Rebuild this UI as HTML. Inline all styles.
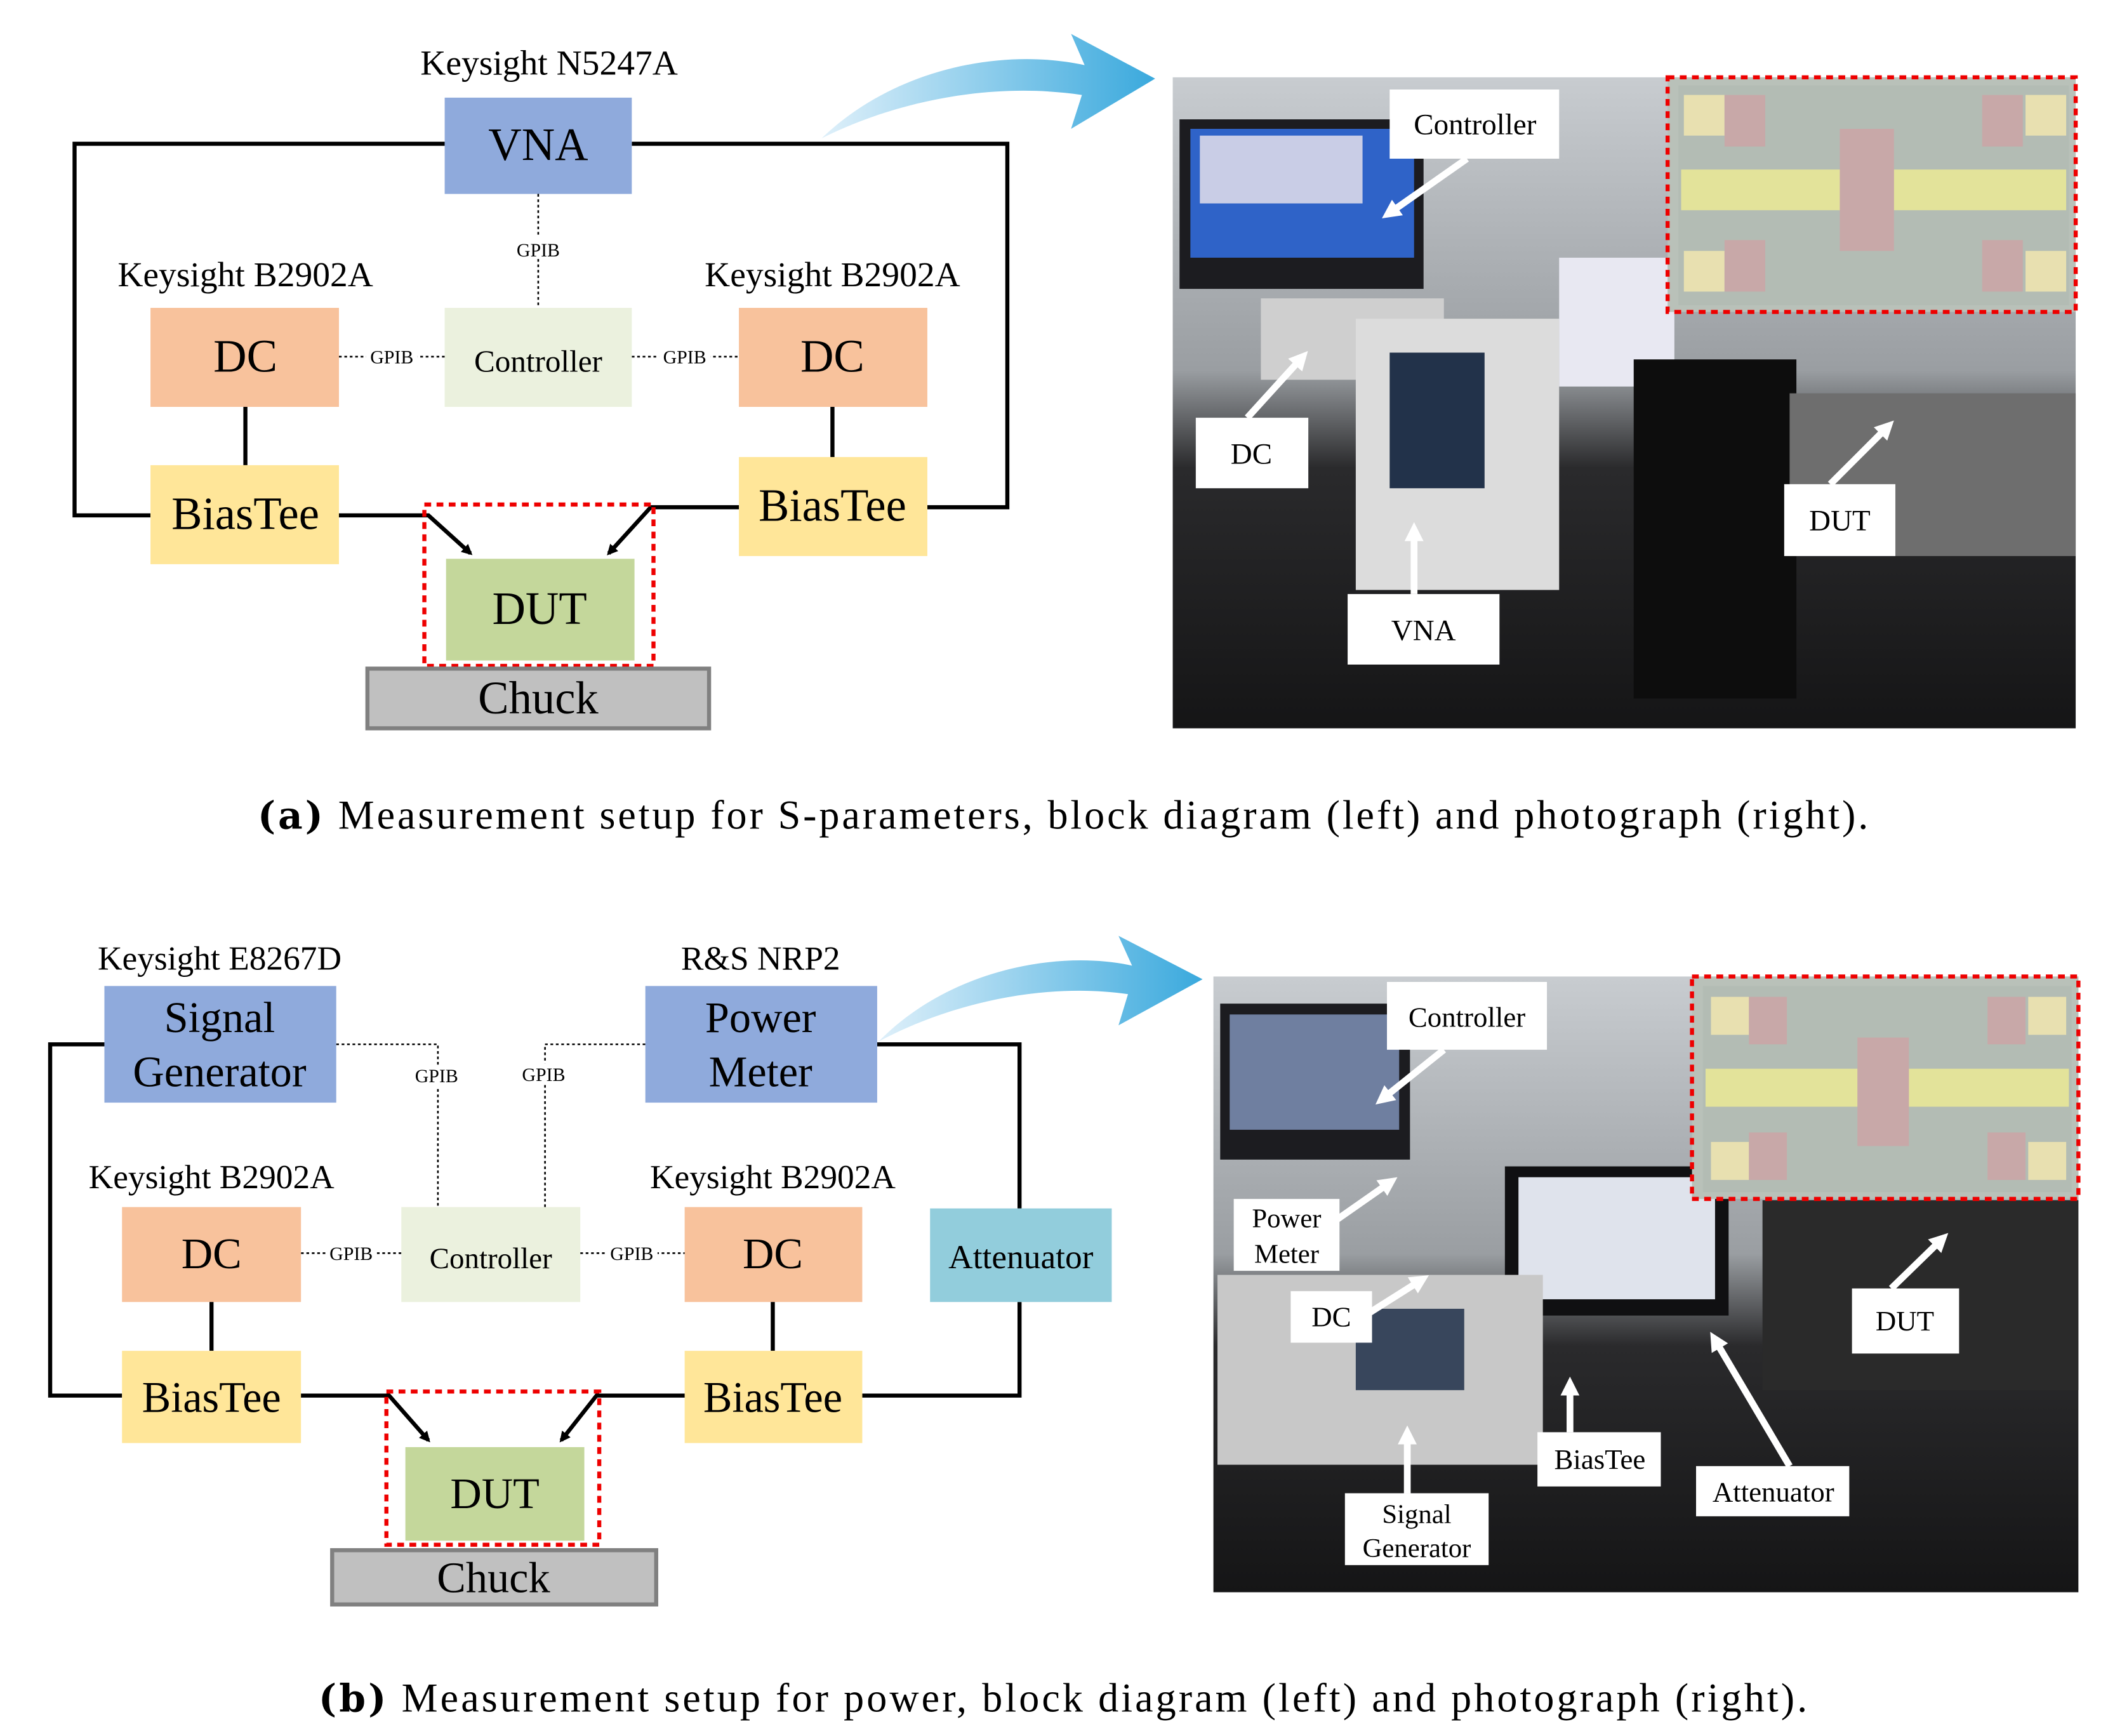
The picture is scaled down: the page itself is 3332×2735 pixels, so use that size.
<!DOCTYPE html>
<html><head><meta charset="utf-8"><style>html,body{margin:0;padding:0;background:#fff}svg{display:block}</style></head>
<body>
<svg width="3332" height="2735" viewBox="0 0 1560 1280" preserveAspectRatio="none" xmlns="http://www.w3.org/2000/svg" font-family="'Liberation Serif', serif">
<defs>
<marker id="ah" markerWidth="8" markerHeight="8" refX="6" refY="4" orient="auto" markerUnits="userSpaceOnUse"><path d="M0,0 L8,4 L0,8 z" fill="#000"/></marker>
<linearGradient id="blu" x1="0" y1="0" x2="1" y2="0"><stop offset="0" stop-color="#dff0fa"/><stop offset="1" stop-color="#3aa9dd"/></linearGradient>
<linearGradient id="ph" x1="0" y1="0" x2="0" y2="1"><stop offset="0" stop-color="#c8ccd0"/><stop offset="0.45" stop-color="#9a9ea2"/><stop offset="0.6" stop-color="#2a2a2c"/><stop offset="1" stop-color="#151516"/></linearGradient>
<marker id="wa" markerWidth="14" markerHeight="14" refX="7" refY="7" orient="auto" markerUnits="userSpaceOnUse"><path d="M0,0 L14,7 L0,14 z" fill="#fff"/></marker>
</defs>
<style>text{fill:#000}</style>

<text x="405" y="55" font-size="26" text-anchor="middle">Keysight N5247A</text>
<polyline points="328,106 55,106 55,380 111,380" fill="none" stroke="#000" stroke-width="3"/>
<polyline points="466,106 743,106 743,374 684,374" fill="none" stroke="#000" stroke-width="3"/>
<rect x="328" y="72" width="138" height="71" fill="#8FAADC"/>
<text x="397" y="118" font-size="34" text-anchor="middle">VNA</text>
<line x1="397" y1="143" x2="397" y2="227" stroke="#000" stroke-width="1.2" stroke-dasharray="2,2"/>
<rect x="378" y="174" width="38" height="16" fill="#fff"/>
<text x="397" y="189" font-size="14" text-anchor="middle">GPIB</text>
<text x="181" y="211" font-size="26" text-anchor="middle">Keysight B2902A</text>
<text x="614" y="211" font-size="26" text-anchor="middle">Keysight B2902A</text>
<line x1="250" y1="263" x2="328" y2="263" stroke="#000" stroke-width="1.2" stroke-dasharray="2,2"/>
<line x1="466" y1="263" x2="545" y2="263" stroke="#000" stroke-width="1.2" stroke-dasharray="2,2"/>
<rect x="270" y="255" width="38" height="16" fill="#fff"/><text x="289" y="268" font-size="14" text-anchor="middle">GPIB</text>
<rect x="486" y="255" width="38" height="16" fill="#fff"/><text x="505" y="268" font-size="14" text-anchor="middle">GPIB</text>
<rect x="111" y="227" width="139" height="73" fill="#F8C29C"/>
<text x="181" y="274" font-size="34" text-anchor="middle">DC</text>
<rect x="545" y="227" width="139" height="73" fill="#F8C29C"/>
<text x="614" y="274" font-size="34" text-anchor="middle">DC</text>
<rect x="328" y="227" width="138" height="73" fill="#EBF1DE"/>
<text x="397" y="274" font-size="23" text-anchor="middle">Controller</text>
<line x1="181" y1="300" x2="181" y2="343" stroke="#000" stroke-width="3"/>
<line x1="614" y1="300" x2="614" y2="337" stroke="#000" stroke-width="3"/>
<rect x="111" y="343" width="139" height="73" fill="#FFE699"/>
<text x="181" y="390" font-size="34" text-anchor="middle">BiasTee</text>
<rect x="545" y="337" width="139" height="73" fill="#FFE699"/>
<text x="614" y="384" font-size="34" text-anchor="middle">BiasTee</text>
<polyline points="250,380 316,380 347,408" fill="none" stroke="#000" stroke-width="3" marker-end="url(#ah)"/>
<polyline points="545,374 480,374 449,408" fill="none" stroke="#000" stroke-width="3" marker-end="url(#ah)"/>
<rect x="329" y="412" width="139" height="75" fill="#C4D79B"/>
<text x="398" y="460" font-size="34" text-anchor="middle">DUT</text>
<rect x="313" y="372" width="169" height="119" fill="none" stroke="#e00" stroke-width="3" stroke-dasharray="5,4"/>
<rect x="271" y="493" width="252" height="44" fill="#c0c0c0" stroke="#808080" stroke-width="3"/>
<text x="397" y="526" font-size="34" text-anchor="middle">Chuck</text>
<path d="M606,102 C660,50 740,35 800,48 L790,25 L852,58 L790,95 L798,70 C730,60 660,75 606,102 z" fill="url(#blu)"/>

<rect x="865" y="57" width="666" height="480" fill="url(#ph)"/>
<rect x="870" y="88" width="180" height="125" fill="#1c1c20"/>
<rect x="878" y="95" width="165" height="95" fill="#2f63c8"/>
<rect x="885" y="100" width="120" height="50" fill="#c9cde6"/>
<rect x="930" y="220" width="135" height="60" fill="#cfcfcf"/>
<rect x="1000" y="235" width="150" height="200" fill="#dcdcdc"/>
<rect x="1025" y="260" width="70" height="100" fill="#22324a"/>
<rect x="1150" y="190" width="85" height="95" fill="#e8e8f2"/>
<rect x="1205" y="265" width="120" height="250" fill="#0d0d0d"/>
<rect x="1320" y="290" width="211" height="120" fill="#6e6e6e"/>
<rect x="1230" y="57" width="301" height="173" fill="#b9c1b9" stroke="#e00" stroke-width="3" stroke-dasharray="5,4"/>
<rect x="1238" y="63" width="288" height="162" fill="#b3bcb4"/>
<rect x="1240" y="125" width="284" height="30" fill="#e3e39a"/>
<rect x="1357" y="95" width="40" height="90" fill="#c8a8a8"/>
<rect x="1242" y="70" width="30" height="30" fill="#e8e0b0"/><rect x="1272" y="70" width="30" height="38" fill="#c8a8a8"/>
<rect x="1494" y="70" width="30" height="30" fill="#e8e0b0"/><rect x="1462" y="70" width="30" height="38" fill="#c8a8a8"/>
<rect x="1242" y="185" width="30" height="30" fill="#e8e0b0"/><rect x="1272" y="177" width="30" height="38" fill="#c8a8a8"/>
<rect x="1494" y="185" width="30" height="30" fill="#e8e0b0"/><rect x="1462" y="177" width="30" height="38" fill="#c8a8a8"/>
<line x1="1082" y1="117" x2="1025" y2="157" stroke="#fff" stroke-width="5" marker-end="url(#wa)"/>
<rect x="1025" y="66" width="125" height="51" fill="#fff"/><text x="1088" y="99" font-size="22" text-anchor="middle">Controller</text>
<line x1="920" y1="308" x2="960" y2="264" stroke="#fff" stroke-width="5" marker-end="url(#wa)"/>
<rect x="882" y="308" width="83" height="52" fill="#fff"/><text x="923" y="342" font-size="22" text-anchor="middle">DC</text>
<line x1="1350" y1="357" x2="1392" y2="315" stroke="#fff" stroke-width="5" marker-end="url(#wa)"/>
<rect x="1316" y="357" width="82" height="53" fill="#fff"/><text x="1357" y="391" font-size="22" text-anchor="middle">DUT</text>
<line x1="1043" y1="438" x2="1043" y2="392" stroke="#fff" stroke-width="5" marker-end="url(#wa)"/>
<rect x="994" y="438" width="112" height="52" fill="#fff"/><text x="1050" y="472" font-size="22" text-anchor="middle">VNA</text>

<text x="190" y="611" font-size="30" textLength="1188" lengthAdjust="spacing"><tspan font-weight="bold" font-family="'DejaVu Serif', serif" font-size="28">(a)</tspan> Measurement setup for S-parameters, block diagram (left) and photograph (right).</text>

<text x="162" y="715" font-size="25" text-anchor="middle">Keysight E8267D</text>
<text x="561" y="715" font-size="25" text-anchor="middle">R&amp;S NRP2</text>
<polyline points="77,770 37,770 37,1029 90,1029" fill="none" stroke="#000" stroke-width="3"/>
<polyline points="647,770 752,770 752,891" fill="none" stroke="#000" stroke-width="3"/>
<polyline points="752,960 752,1029 636,1029" fill="none" stroke="#000" stroke-width="3"/>
<polyline points="248,770 323,770 323,890" fill="none" stroke="#000" stroke-width="1.2" stroke-dasharray="2,2"/>
<polyline points="476,770 402,770 402,890" fill="none" stroke="#000" stroke-width="1.2" stroke-dasharray="2,2"/>
<rect x="304" y="785" width="38" height="16" fill="#fff"/><text x="322" y="798" font-size="14" text-anchor="middle">GPIB</text>
<rect x="383" y="784" width="38" height="16" fill="#fff"/><text x="401" y="797" font-size="14" text-anchor="middle">GPIB</text>
<rect x="77" y="727" width="171" height="86" fill="#8FAADC"/>
<text x="162" y="761" font-size="32" text-anchor="middle">Signal</text>
<text x="162" y="801" font-size="32" text-anchor="middle">Generator</text>
<rect x="476" y="727" width="171" height="86" fill="#8FAADC"/>
<text x="561" y="761" font-size="32" text-anchor="middle">Power</text>
<text x="561" y="801" font-size="32" text-anchor="middle">Meter</text>
<text x="156" y="876" font-size="25" text-anchor="middle">Keysight B2902A</text>
<text x="570" y="876" font-size="25" text-anchor="middle">Keysight B2902A</text>
<line x1="222" y1="924" x2="296" y2="924" stroke="#000" stroke-width="1.2" stroke-dasharray="2,2"/>
<line x1="428" y1="924" x2="505" y2="924" stroke="#000" stroke-width="1.2" stroke-dasharray="2,2"/>
<rect x="240" y="916" width="38" height="16" fill="#fff"/><text x="259" y="929" font-size="14" text-anchor="middle">GPIB</text>
<rect x="447" y="916" width="38" height="16" fill="#fff"/><text x="466" y="929" font-size="14" text-anchor="middle">GPIB</text>
<rect x="90" y="890" width="132" height="70" fill="#F8C29C"/>
<text x="156" y="935" font-size="32" text-anchor="middle">DC</text>
<rect x="296" y="890" width="132" height="70" fill="#EBF1DE"/>
<text x="362" y="935" font-size="22" text-anchor="middle">Controller</text>
<rect x="505" y="890" width="131" height="70" fill="#F8C29C"/>
<text x="570" y="935" font-size="32" text-anchor="middle">DC</text>
<rect x="686" y="891" width="134" height="69" fill="#92CDDC"/>
<text x="753" y="935" font-size="25" text-anchor="middle">Attenuator</text>
<line x1="156" y1="960" x2="156" y2="996" stroke="#000" stroke-width="3"/>
<line x1="570" y1="960" x2="570" y2="996" stroke="#000" stroke-width="3"/>
<rect x="90" y="996" width="132" height="68" fill="#FFE699"/>
<text x="156" y="1041" font-size="32" text-anchor="middle">BiasTee</text>
<rect x="505" y="996" width="131" height="68" fill="#FFE699"/>
<text x="570" y="1041" font-size="32" text-anchor="middle">BiasTee</text>
<polyline points="222,1029 287,1029 316,1062" fill="none" stroke="#000" stroke-width="3" marker-end="url(#ah)"/>
<polyline points="505,1029 440,1029 414,1062" fill="none" stroke="#000" stroke-width="3" marker-end="url(#ah)"/>
<rect x="299" y="1067" width="132" height="69" fill="#C4D79B"/>
<text x="365" y="1112" font-size="32" text-anchor="middle">DUT</text>
<rect x="285" y="1026" width="157" height="113" fill="none" stroke="#e00" stroke-width="3" stroke-dasharray="5,4"/>
<rect x="245" y="1143" width="239" height="40" fill="#c0c0c0" stroke="#808080" stroke-width="3"/>
<text x="364" y="1174" font-size="32" text-anchor="middle">Chuck</text>
<path d="M648,768 C700,715 780,700 835,712 L825,690 L887,722 L825,756 L832,733 C770,724 700,740 648,768 z" fill="url(#blu)"/>

<rect x="895" y="720" width="638" height="454" fill="url(#ph)"/>
<rect x="900" y="740" width="140" height="115" fill="#1c1c20"/>
<rect x="907" y="748" width="125" height="85" fill="#6f7fa0"/>
<rect x="1110" y="860" width="165" height="110" fill="#101012"/>
<rect x="1120" y="868" width="145" height="90" fill="#dfe3ec"/>
<rect x="898" y="940" width="240" height="140" fill="#c8c8c8"/>
<rect x="1000" y="965" width="80" height="60" fill="#38465c"/>
<rect x="1300" y="885" width="233" height="140" fill="#2a2a2a"/>
<rect x="1248" y="720" width="285" height="164" fill="#b9c1b9" stroke="#e00" stroke-width="3" stroke-dasharray="5,4"/>
<rect x="1256" y="727" width="272" height="152" fill="#b3bcb4"/>
<rect x="1258" y="788" width="268" height="28" fill="#e3e39a"/>
<rect x="1370" y="765" width="38" height="80" fill="#c8a8a8"/>
<rect x="1262" y="735" width="28" height="28" fill="#e8e0b0"/><rect x="1290" y="735" width="28" height="35" fill="#c8a8a8"/>
<rect x="1496" y="735" width="28" height="28" fill="#e8e0b0"/><rect x="1466" y="735" width="28" height="35" fill="#c8a8a8"/>
<rect x="1262" y="842" width="28" height="28" fill="#e8e0b0"/><rect x="1290" y="835" width="28" height="35" fill="#c8a8a8"/>
<rect x="1496" y="842" width="28" height="28" fill="#e8e0b0"/><rect x="1466" y="835" width="28" height="35" fill="#c8a8a8"/>
<line x1="1065" y1="774" x2="1020" y2="810" stroke="#fff" stroke-width="5" marker-end="url(#wa)"/>
<rect x="1023" y="724" width="118" height="50" fill="#fff"/><text x="1082" y="757" font-size="21" text-anchor="middle">Controller</text>
<line x1="985" y1="900" x2="1025" y2="872" stroke="#fff" stroke-width="5" marker-end="url(#wa)"/>
<rect x="910" y="884" width="78" height="53" fill="#fff"/><text x="949" y="905" font-size="20" text-anchor="middle">Power</text><text x="949" y="931" font-size="20" text-anchor="middle">Meter</text>
<line x1="1010" y1="968" x2="1048" y2="944" stroke="#fff" stroke-width="5" marker-end="url(#wa)"/>
<rect x="952" y="952" width="60" height="38" fill="#fff"/><text x="982" y="978" font-size="21" text-anchor="middle">DC</text>
<line x1="1395" y1="950" x2="1432" y2="914" stroke="#fff" stroke-width="5" marker-end="url(#wa)"/>
<rect x="1366" y="950" width="79" height="48" fill="#fff"/><text x="1405" y="981" font-size="21" text-anchor="middle">DUT</text>
<line x1="1158" y1="1056" x2="1158" y2="1022" stroke="#fff" stroke-width="5" marker-end="url(#wa)"/>
<rect x="1134" y="1056" width="91" height="40" fill="#fff"/><text x="1180" y="1083" font-size="21" text-anchor="middle">BiasTee</text>
<line x1="1320" y1="1081" x2="1265" y2="988" stroke="#fff" stroke-width="5" marker-end="url(#wa)"/>
<rect x="1251" y="1081" width="113" height="37" fill="#fff"/><text x="1308" y="1107" font-size="21" text-anchor="middle">Attenuator</text>
<line x1="1038" y1="1101" x2="1038" y2="1058" stroke="#fff" stroke-width="5" marker-end="url(#wa)"/>
<rect x="992" y="1101" width="106" height="53" fill="#fff"/><text x="1045" y="1123" font-size="20" text-anchor="middle">Signal</text><text x="1045" y="1148" font-size="20" text-anchor="middle">Generator</text>

<text x="235" y="1262" font-size="30" textLength="1098" lengthAdjust="spacing"><tspan font-weight="bold" font-family="'DejaVu Serif', serif" font-size="28">(b)</tspan> Measurement setup for power, block diagram (left) and photograph (right).</text>
</svg>
</body></html>
